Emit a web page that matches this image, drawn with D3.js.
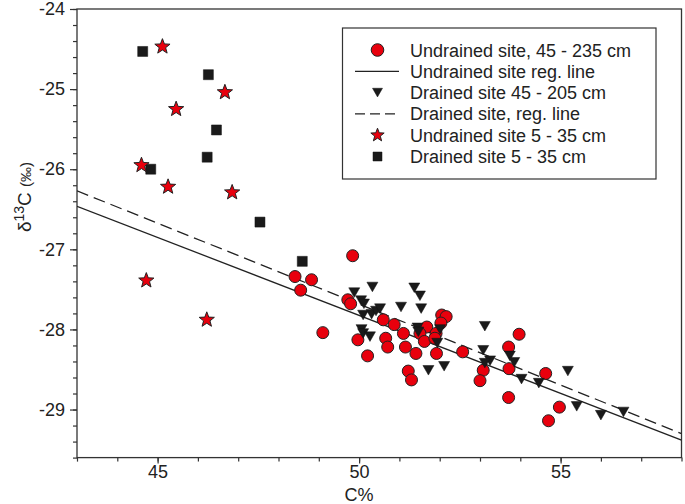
<!DOCTYPE html>
<html><head><meta charset="utf-8">
<script src="https://cdn.jsdelivr.net/npm/d3@7"></script>
<style>body{margin:0;background:#fff;} svg{display:block;font-family:Arial,"Liberation Sans",sans-serif;}</style>
</head><body><svg id="c" width="685" height="504"></svg>
<script>
const undrainedDeep = [[48.41,-27.34],[48.82,-27.38],[48.55,-27.51],[49.10,-28.04],[49.84,-27.08],[49.72,-27.63],[49.79,-27.68],[49.97,-28.13],[50.21,-28.33],[50.60,-27.88],[50.87,-27.94],[51.10,-28.05],[50.66,-28.11],[50.71,-28.22],[51.15,-28.22],[51.41,-28.30],[51.22,-28.52],[51.30,-28.63],[51.68,-27.97],[51.51,-28.05],[51.62,-28.15],[51.91,-28.05],[51.88,-28.11],[52.05,-27.82],[52.16,-27.84],[52.03,-27.92],[51.92,-28.30],[52.57,-28.28],[53.08,-28.51],[53.00,-28.64],[53.97,-28.06],[53.71,-28.22],[53.72,-28.49],[54.63,-28.55],[53.71,-28.85],[54.97,-28.97],[54.70,-29.14]];
const drainedDeep = [[49.88,-27.54],[50.33,-27.47],[50.05,-27.64],[50.12,-27.68],[50.10,-27.82],[50.31,-27.81],[50.42,-27.77],[50.52,-27.74],[50.06,-28.00],[50.10,-28.05],[50.27,-28.09],[51.04,-27.72],[51.37,-27.48],[51.51,-27.58],[51.54,-27.74],[51.45,-27.98],[51.47,-28.03],[52.01,-28.00],[51.94,-28.17],[51.72,-28.51],[52.11,-28.46],[53.12,-27.96],[53.08,-28.26],[53.25,-28.39],[53.12,-28.42],[53.74,-28.33],[53.85,-28.41],[54.03,-28.62],[54.46,-28.67],[55.18,-28.52],[55.40,-28.96],[56.00,-29.07],[56.56,-29.03]];
const undrainedTop = [[45.12,-24.47],[46.67,-25.04],[45.46,-25.25],[44.60,-25.95],[45.26,-26.22],[46.85,-26.29],[44.72,-27.39],[46.22,-27.88]];
const drainedTop = [[44.63,-24.53],[46.26,-24.82],[46.46,-25.51],[46.23,-25.85],[44.83,-26.00],[47.54,-26.66],[48.59,-27.15]];
// regression lines: [intercept, slope]
const undrainedReg = [-18.09, -0.1947];
const drainedReg = [-17.584, -0.202];
const xDomain = [43, 58];
const yDomain = [-29.6, -24];
const xTicks = [45, 50, 55];
const yTicks = [-24, -25, -26, -27, -28, -29];
const legendLabels = ["Undrained site, 45 - 235 cm","Undrained site reg. line","Drained site 45 - 205 cm","Drained site, reg. line","Undrained site 5 - 35 cm","Drained site 5 - 35 cm"];

const L = 77, R = 681.5, T = 9, B = 457.6;
const svg = d3.select("#c");
const x = d3.scaleLinear().domain(xDomain).range([L, R]);
const y = d3.scaleLinear().domain(yDomain).range([B, T]);
const RED = "#e8000d", EDGE = "#222", AX = "#333";
const fmt = v => String(v);

// frame
svg.append("rect").attr("x", L).attr("y", T).attr("width", R - L).attr("height", B - T)
  .attr("fill", "none").attr("stroke", AX).attr("stroke-width", 1.3);

// axes
const xMinor = d3.range(43, 58.01, 1);
const yMinor = d3.range(-29.6, -23.99, 0.2).map(v => +v.toFixed(1));
const gx = svg.append("g").attr("transform", `translate(0,${B})`);
gx.call(d3.axisBottom(x).tickValues(xMinor).tickSize(4).tickFormat(""));
gx.call(g => g.append("g").call(d3.axisBottom(x).tickValues(xTicks).tickSize(6).tickPadding(2).tickFormat(fmt)));
const gy = svg.append("g").attr("transform", `translate(${L},0)`);
gy.call(d3.axisLeft(y).tickValues(yMinor).tickSize(4).tickFormat(""));
gy.call(g => g.append("g").call(d3.axisLeft(y).tickValues(yTicks).tickSize(7).tickPadding(5).tickFormat(fmt)));
svg.selectAll(".domain").remove();
svg.selectAll(".tick line").attr("stroke", AX).attr("stroke-width", 1.2);
svg.selectAll(".tick text").attr("font-size", 18).attr("fill", "#222").attr("font-family", "Arial, 'Liberation Sans', sans-serif");

// axis titles
svg.append("text").attr("x", x(50)).attr("y", 501).attr("text-anchor", "middle")
  .attr("font-size", 18).attr("fill", "#222").text("C%");
const yt = svg.append("text").attr("transform", `translate(31,${197}) rotate(-90)`).attr("text-anchor", "middle")
  .attr("font-size", 19).attr("fill", "#222");
yt.append("tspan").text("δ");
yt.append("tspan").attr("font-size", 14).attr("dy", -7).text("13");
yt.append("tspan").attr("dy", 7).text("C ");
yt.append("tspan").attr("font-size", 15).text("(‰)");

// regression lines
svg.append("clipPath").attr("id", "pc").append("rect").attr("x", L).attr("y", T).attr("width", R - L).attr("height", B - T);
function regLine(c, dash) {
  const pts = xDomain.map(v => [x(v), y(c[0] + c[1] * v)]);
  svg.append("path").attr("d", d3.line()(pts)).attr("fill", "none").attr("stroke", "#222")
    .attr("stroke-width", 1.3).attr("stroke-dasharray", dash).attr("clip-path", "url(#pc)");
}
regLine(undrainedReg, null);
regLine(drainedReg, "12,6");

// marker shapes
function star(R0) {
  const r = R0 * 0.42, p = [];
  for (let i = 0; i < 10; i++) {
    const a = -Math.PI / 2 + i * Math.PI / 5, rr = i % 2 ? r : R0;
    p.push([rr * Math.cos(a), rr * Math.sin(a)]);
  }
  return "M" + p.join("L") + "Z";
}
function tri(w) { const h = w * 0.87; return `M${-w/2},${-h/2}L${w/2},${-h/2}L0,${h/2}Z`; }
function sq(s) { return `M${-s/2},${-s/2}h${s}v${s}h${-s}Z`; }

function drawCircles(g, data, r) {
  g.selectAll(null).data(data).enter().append("circle")
    .attr("cx", d => d[0]).attr("cy", d => d[1]).attr("r", r)
    .attr("fill", RED).attr("stroke", EDGE).attr("stroke-width", 1);
}
function drawPaths(g, data, d, fill, sw) {
  g.selectAll(null).data(data).enter().append("path")
    .attr("transform", p => `translate(${p[0]},${p[1]})`).attr("d", d)
    .attr("fill", fill).attr("stroke", fill === RED ? EDGE : "#111").attr("stroke-width", sw);
}
const pg = svg.append("g");
const proj = a => a.map(d => [x(d[0]), y(d[1])]);
drawCircles(pg, proj(undrainedDeep), 6);
drawPaths(pg, proj(drainedDeep), tri(11), "#1a1a1a", 0.5);
drawPaths(pg, proj(drainedTop), sq(10), "#1a1a1a", 0.5);
drawPaths(pg, proj(undrainedTop), star(8), RED, 1);

// legend
const lg = svg.append("g");
lg.append("rect").attr("x", 342.5).attr("y", 28).attr("width", 313.5).attr("height", 151)
  .attr("fill", "#fff").attr("stroke", AX).attr("stroke-width", 1.2);
const rowY = d3.range(6).map(i => 50 + i * 21.3);
const mx = 377.5;
drawCircles(lg, [[mx, rowY[0]]], 6.3);
lg.append("line").attr("x1", 355).attr("x2", 399).attr("y1", rowY[1]).attr("y2", rowY[1]).attr("stroke", "#222").attr("stroke-width", 1.3);
drawPaths(lg, [[mx, rowY[2]]], tri(10), "#1a1a1a", 0.5);
lg.append("line").attr("x1", 355).attr("x2", 399).attr("y1", rowY[3]).attr("y2", rowY[3]).attr("stroke", "#222").attr("stroke-width", 1.3).attr("stroke-dasharray", "10,5");
drawPaths(lg, [[mx, rowY[4]]], star(7), RED, 1);
drawPaths(lg, [[mx, rowY[5]]], sq(9), "#1a1a1a", 0.5);
lg.selectAll(null).data(legendLabels).enter().append("text")
  .attr("x", 410).attr("y", (d, i) => rowY[i] + 6.5).attr("font-size", 18).attr("fill", "#222").text(d => d);
</script></body></html>
